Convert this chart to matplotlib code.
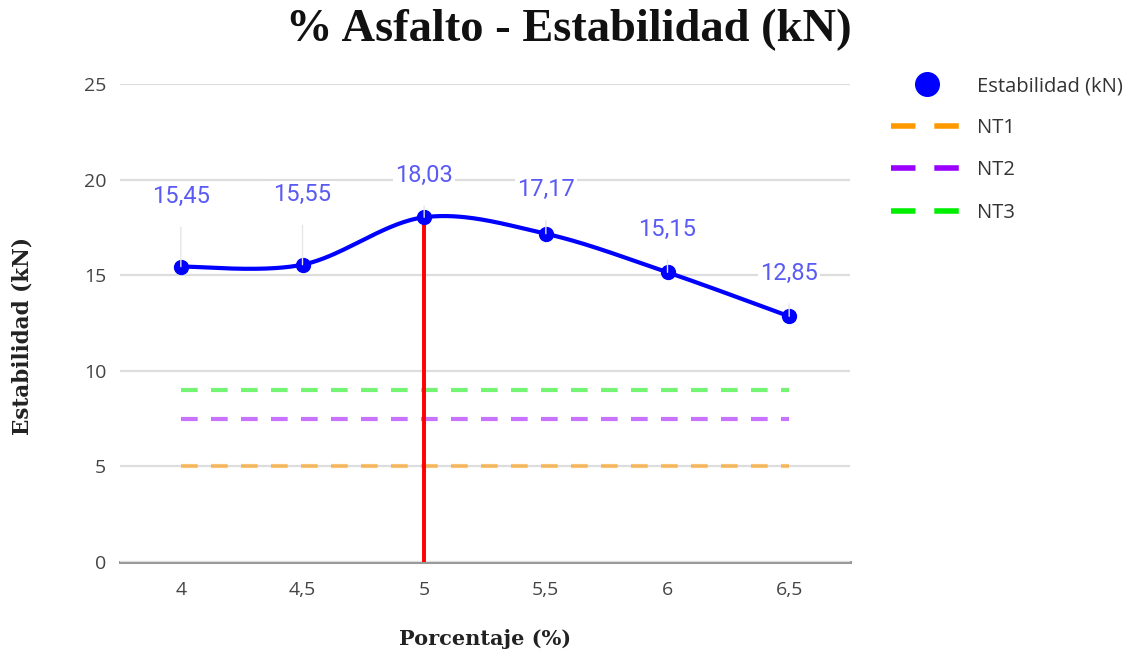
import matplotlib
matplotlib.use("Agg")
import matplotlib.pyplot as plt
from matplotlib.lines import Line2D
import numpy as np

# data
porcentaje = [4, 4.5, 5, 5.5, 6, 6.5]
estabilidad = [15.45, 15.55, 18.03, 17.17, 15.15, 12.85]
nt_names = ["NT1", "NT2", "NT3"]
nt_values = [5, 7.5, 9]
optimo = 5

nt_colors = ["#ff9900", "#9900ff", "#00ee00"]
label_lift = [70, 70, 42, 44, 43, 43]  # px above the point (labels pushed up to avoid overlap)


def fmt(v):
    s = ("%g" % v) if abs(v - round(v, 1)) < 1e-9 and len(("%g" % v)) < 4 else "%.2f" % v
    return s.replace(".", ",")


def smooth(xs, ys, n=60):
    """Catmull-Rom style curve through the points (like Google's curveType function)."""
    px = [xs[0]] + list(xs) + [xs[-1]]
    py = [ys[0]] + list(ys) + [ys[-1]]
    outx, outy = [], []
    t = np.linspace(0, 1, n)
    for i in range(1, len(px) - 2):
        p0, p1, p2, p3 = (np.array([px[j], py[j]]) for j in (i - 1, i, i + 1, i + 2))
        c1 = p1 + (p2 - p0) / 6
        c2 = p2 - (p3 - p1) / 6
        b = ((1 - t) ** 3)[:, None] * p1 + (3 * (1 - t) ** 2 * t)[:, None] * c1 \
            + (3 * (1 - t) * t ** 2)[:, None] * c2 + (t ** 3)[:, None] * p2
        outx.extend(b[:, 0])
        outy.extend(b[:, 1])
    return outx, outy


fig = plt.figure(figsize=(11.34, 6.57), dpi=100)
ax = fig.add_axes([120 / 1134, 1 - 562 / 657, 730 / 1134, (562 - 84) / 657])

ax.set_xlim(3.75, 6.75)
ax.set_ylim(0, 25)
ax.set_yticks([0, 5, 10, 15, 20, 25])
ax.set_xticks(porcentaje)
ax.set_xticklabels([fmt(v) for v in porcentaje])
ax.grid(axis="y", color="#dddddd", lw=1.6, zorder=0)
ax.axhline(0, color="#999999", lw=2.2, zorder=1, clip_on=False)
for s in ax.spines.values():
    s.set_visible(False)
ax.tick_params(length=0, labelsize=14, colors="#444444", labelfontfamily="Open Sans")
ax.tick_params(axis="x", pad=14)
ax.tick_params(axis="y", pad=10)

# reference lines
for name, val, col in zip(nt_names, nt_values, nt_colors):
    ax.plot([porcentaje[0], porcentaje[-1]], [val, val], color=col, lw=3, alpha=0.55,
            dashes=(4, 3.2), zorder=2)

ax.vlines(optimo, 0, estabilidad[porcentaje.index(optimo)], color="#ff0000", lw=2.8, zorder=3)

sx, sy = smooth(porcentaje, estabilidad)
ax.plot(sx, sy, color="#0000ff", lw=3, zorder=4)
ax.plot(porcentaje, estabilidad, "o", color="#0000ff", ms=10, zorder=5)

for x, y, lift in zip(porcentaje, estabilidad, label_lift):
    ax.annotate(fmt(y), (x, y), xytext=(0, lift * 0.72), textcoords="offset points",
                ha="center", va="center", fontsize=17, color="#5a5af5", family="Roboto",
                arrowprops=dict(arrowstyle="-", color="#e6e6e6", lw=1, shrinkA=12, shrinkB=0),
                bbox=dict(boxstyle="square,pad=0.1", fc="white", ec="none"), zorder=6)

fig.text(0.502, 0.955, "% Asfalto - Estabilidad (kN)", ha="center", va="center",
         fontsize=33.5, fontweight="bold", family="Liberation Serif", color="#111111")
ax.set_xlabel("Porcentaje (%)", fontsize=15, fontweight="bold", family="DejaVu Serif",
              color="#222222", labelpad=21)
ax.set_ylabel("Estabilidad (kN)", fontsize=15.5, fontweight="bold", family="DejaVu Serif",
              color="#222222")
ax.yaxis.set_label_coords(-0.119, 0.473)

handles = [Line2D([], [], ls="none", marker="o", ms=17, color="#0000ff")]
handles += [Line2D([], [], color=c, lw=4, dashes=(4.4, 3.4)) for c in nt_colors]
leg = ax.legend(handles, ["Estabilidad (kN)"] + nt_names, loc="upper left",
                bbox_to_anchor=(873 / 1134, 1 - 58 / 657), bbox_transform=fig.transFigure,
                frameon=False, handlelength=3.55, handletextpad=0.7, labelspacing=1.1,
                prop={"family": "Open Sans", "size": 14.5})
for t in leg.get_texts():
    t.set_color("#333333")

fig.savefig("out.png", dpi=100, facecolor="white")
